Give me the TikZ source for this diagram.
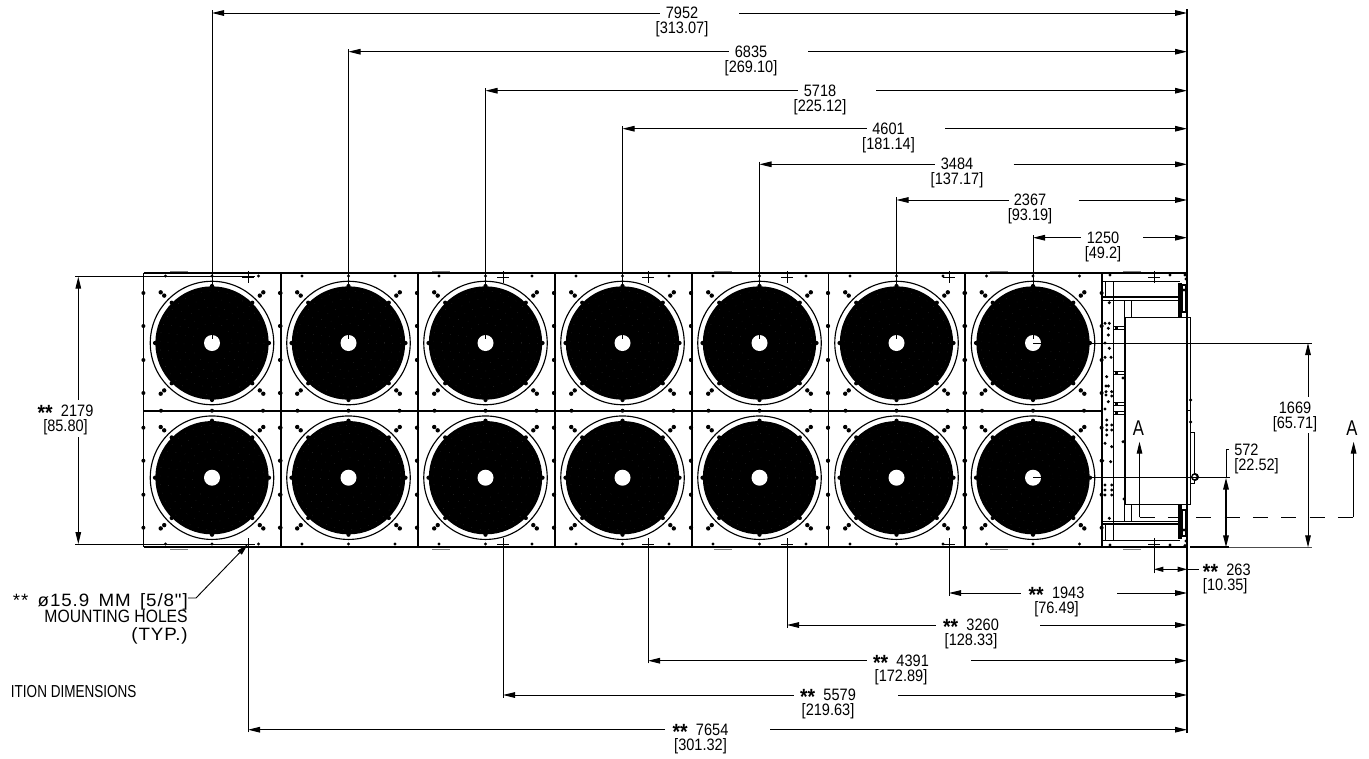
\documentclass[tikz,border=0pt]{standalone}
\usepackage{fontspec}
\setmainfont[FakeStretch=0.88]{Liberation Sans}
\newfontfamily\labelfont[FakeStretch=0.78]{Liberation Sans}
\newfontfamily\widefont[FakeStretch=1.05,LetterSpace=5]{Liberation Sans}
\usetikzlibrary{arrows.meta}
\newcommand{\twostars}{\smash{\raisebox{-0.42ex}{\fontsize{16.5}{16.5}\selectfont\textbf{**}}}\hspace{0.5em}}

\begin{document}
\begin{tikzpicture}[x=0.75pt,y=-0.75pt,font=\fontsize{12.4}{14}\selectfont]
  \tikzset{
    panel_edge/.style={line width=1.35pt},
    fan_ring/.style={circle, draw=black, line width=0.85pt, minimum size=92.6pt, inner sep=0pt},
    fan_disc/.style={circle, fill=black, minimum size=85pt, inner sep=0pt},
    fan_hub/.style={circle, fill=white, minimum size=12pt, inner sep=0pt},
    dim_text/.style={inner sep=0pt},
    note_text/.style={inner sep=0pt, font=\fontsize{13.4}{15}\selectfont},
    thin_line/.style={line width=0.7pt},
    heavy_line/.style={line width=1.15pt},
    dim_arrow/.style={-{Stealth[length=9pt,width=4.2pt,inset=0pt]}, line width=0.7pt},
    dim_both/.style={{Stealth[length=7pt,width=3.8pt,inset=0pt]}-{Stealth[length=7pt,width=3.8pt,inset=0pt]}, line width=0.7pt},
    ext_line/.style={line width=0.65pt}
  }
  \useasboundingbox (0,0) rectangle (1369,758);

  % panels, two rows of seven
  \foreach \px in {143.5,281,418,555,692,828.5,965,1102} {
    \draw[panel_edge] (\px,273) -- (\px,547.3);
  }
  \draw[panel_edge] (143.5,273) -- (1186,273);
  \draw[panel_edge] (143.5,547.3) -- (1186,547.3);
  \draw[panel_edge] (143.5,410.7) -- (1102,410.7);
  \foreach \mx in {170,432,714,990,1123} {
    \draw[gray, thin_line] (\mx,271) -- (\mx+18,271);
    \draw[gray, thin_line] (\mx,549) -- (\mx+18,549);
  }

  % fans and the dots round them
  \foreach \cx [count=\ci] in {212,348.5,485.5,622.5,759.5,896.5,1033} {
    \foreach \cy [count=\ri] in {343,477.7} {
      \node[fan_ring] (ring-\ci-\ri) at (\cx,\cy) {};
      \node[fan_disc] (fan-\ci-\ri) at (\cx,\cy) {};
      \foreach \rr in {20,28,36,44,52} {
        \draw[black!65, line width=0.1pt, dash pattern=on 0.5pt off 6pt] (\cx,\cy) circle (\rr);
      }
      \foreach \ang in {0,45,...,315} {
        \fill (\cx,\cy) ++(\ang:57) circle (2.1);
      }
      \node[fan_hub] (hub-\ci-\ri) at (\cx,\cy) {};
      \foreach \sx in {-1,1} {
        \foreach \sy in {-1,1} {
          \fill (\cx+\sx*51.3,\cy+\sy*50.7) circle (2.2);
          \fill (\cx+\sx*47.8,\cy+\sy*47.4) circle (2.2);
          \fill (\cx+\sx*68.6,\cy+\sy*50) circle (2);
          \fill (\cx+\sx*68.6,\cy+\sy*17) circle (2);
        }
      }
      \ifnum\ri=1
        \fill (\cx,\cy-67) circle (1.6);
        \fill (\cx-46.5,\cy-67) circle (1.6);
        \fill (\cx+46.5,\cy-67) circle (1.6);
        \fill (\cx,\cy+67.7) circle (2);
        \fill (\cx-51,\cy+67.7) circle (2);
        \fill (\cx+51,\cy+67.7) circle (2);
      \else
        \fill (\cx,\cy+66.3) circle (1.6);
        \fill (\cx-46.5,\cy+66.3) circle (1.6);
        \fill (\cx+46.5,\cy+66.3) circle (1.6);
      \fi
    }
  }

  % unit at the right end
  \draw[thin_line] (1102,281) -- (1180,281);
  \draw[heavy_line] (1102,297) -- (1180,297);
  \draw[thin_line] (1102,300) -- (1180,300);
  \draw[thin_line] (1102,521) -- (1180,521);
  \draw[heavy_line] (1102,524) -- (1180,524);
  \draw[thin_line] (1102,540) -- (1180,540);
  \draw[thin_line] (1105,281) -- (1105,297);
  \draw[thin_line] (1105,524) -- (1105,540);
  \draw[thin_line] (1113.5,281) -- (1113.5,540);
  \draw[panel_edge] (1124.5,300) -- (1124.5,521);
  \draw[thin_line] (1131.5,300) -- (1131.5,317);
  \draw[thin_line] (1131.5,504) -- (1131.5,521);
  \draw[thin_line] (1125,317) rectangle (1190.6,504);
  \draw[thin_line] (1186,317) -- (1186,504);
  \draw[thin_line] (1187,410.7) -- (1190.6,410.7);
  \draw[thin_line] (1190.6,432.7) rectangle (1194.5,483);
  \draw[heavy_line] (1160,504.5) -- (1180,504.5);
  \fill (1177.7,283) rectangle (1182,317);
  \fill (1177.7,505) rectangle (1182,539);
  \draw[heavy_line] (1182.5,285) rectangle (1186,312);
  \draw[heavy_line] (1182.5,510) rectangle (1186,536);
  \fill (1195,477) circle (4);
  \fill[white] (1194.5,477) circle (2);
  \foreach \vy in {327.7,373.3,404,413.3} {
    \draw[thin_line] (1114,\vy-1.5) -- (1124,\vy-1.5);
    \draw[thin_line] (1114,\vy+1.5) -- (1124,\vy+1.5);
    \fill (1115,\vy-2) rectangle (1118,\vy+2);
  }
  \foreach \hx/\hy in {1109.3/302.7,1105/323.3,1109.3/323.3,1108.3/328.3,1108.3/335,1105/343,1109.3/348.3,1105/357.3,
    1111/357.3,1106.7/376.7,1106/386,1108.3/386,1106/391.7,1111.7/391.7,1106/395,1111.7/396,1108.3/401.7,1105/409,
    1106.7/420,1106.7/425,1111.7/425,1106.7/430,1111.7/430,1106.7/435,1105/443.3,1111.7/446.7,1102.7/460.7,1110.7/461.7,
    1105/485,1111.7/485,1105/490,1111.7/490,1105/495,1111.7/495,1109.3/518.3,1110/545,1110/275,1170/275,1170/545,
    1123/378,1123/441.7,1124/499,1185/275,1186/279,1185/545.5,1186/541,1184/290,1184/530,1190.6/400,1190.6/422} {
    \fill (\hx,\hy) circle (1.7);
  }

  % mounting holes
  \foreach \hx in {248,503,648,787,949,1154} {
    \coordinate (hole-top-\hx) at (\hx,277);
    \coordinate (hole-bot-\hx) at (\hx,544);
    \draw[thin_line] (\hx-6,277) -- (\hx+6,277);
    \draw[thin_line] (\hx,271) -- (\hx,283);
    \draw[thin_line] (\hx-6,544) -- (\hx+6,544);
    \draw[thin_line] (\hx,538) -- (\hx,544);
  }

  % dimensions above, down to the fan centres
  \foreach \dimval/\inval/\col/\dimy/\tx/\stopx/\resx in {
    7952/313.07/1/13/682/659.5/739,
    6835/269.10/2/51.7/751/728.5/808,
    5718/225.12/3/90.7/820/797.5/876,
    4601/181.14/4/128.7/888.5/866.6/945,
    3484/137.17/5/164.3/957/934.5/1013.5,
    2367/93.19/6/200/1030/1008.5/1078.7,
    1250/49.2/7/237.7/1103/1081/1143} {
    \node[dim_text] (val-\dimval) at (\tx,\dimy) {\dimval};
    \node[dim_text] (alt-\dimval) at (\tx,\dimy+16.4) {[\inval]};
    \coordinate (start-\dimval) at (hub-\col-1 |- val-\dimval);
    \coordinate (stop-\dimval) at (\stopx,\dimy);
    \coordinate (res-\dimval) at (\resx,\dimy);
    \coordinate (rail-\dimval) at (1187,\dimy);
    \draw[ext_line, shorten >=3pt, shorten <=-2pt] (start-\dimval) -- (hub-\col-1.center);
    \draw[dim_arrow] (stop-\dimval) -- (start-\dimval);
    \draw[dim_arrow] (res-\dimval) -- (rail-\dimval);
  }

  % dimensions below, from the mounting holes
  \foreach \dimval/\inval/\hole/\dimy/\tx/\stopx/\resx in {
    1943/76.49/949/593/1056.5/1020.8/1117,
    3260/128.33/787/625/971/935.6/1040,
    4391/172.89/648/660.7/901/866.6/971,
    5579/219.63/503/695/828/793.7/898,
    7654/301.32/248/729.7/700.5/665/770} {
    \node[dim_text] (val-\dimval) at (\tx,\dimy) {\twostars\dimval};
    \node[dim_text] (alt-\dimval) at (\tx,\dimy+16.4) {[\inval]};
    \coordinate (start-\dimval) at (hole-bot-\hole |- val-\dimval);
    \coordinate (stop-\dimval) at (\stopx,\dimy);
    \coordinate (res-\dimval) at (\resx,\dimy);
    \coordinate (rail-\dimval) at (1187,\dimy);
    \draw[ext_line, shorten <=-2pt] (start-\dimval) -- (hole-bot-\hole);
    \draw[dim_arrow] (stop-\dimval) -- (start-\dimval);
    \draw[dim_arrow] (res-\dimval) -- (rail-\dimval);
  }

  % rail at the right end of all the chains
  \coordinate (rail-top) at (1187,9);
  \coordinate (rail-bot) at (1187,733);
  \draw[line width=1.05pt] (rail-top) -- (rail-bot);

  % overall height on the left
  \node[dim_text] (val-2179) at (65.5,411) {\twostars2179};
  \node[dim_text] (alt-2179) at (65.5,427) {[85.80]};
  \coordinate (left-top) at (75,276.7);
  \coordinate (left-bot) at (75,544);
  \coordinate (left-a) at (78.3,276.7);
  \coordinate (left-b) at (78.3,544);
  \coordinate (left-c) at (78.3,400);
  \coordinate (left-d) at (78.3,437);
  \coordinate (left-e) at (255,276.7);
  \coordinate (left-f) at (255,544);
  \draw[ext_line] (left-top) -- (left-e);
  \draw[ext_line] (left-bot) -- (left-f);
  \draw[dim_arrow] (left-c) -- (left-a);
  \draw[dim_arrow] (left-d) -- (left-b);

  % fan centres to the base on the right
  \node[dim_text] (val-1669) at (1295,408) {1669};
  \node[dim_text] (alt-1669) at (1295,424) {[65.71]};
  \coordinate (ext-1669) at (1311.7,343);
  \coordinate (ext-base) at (1311.7,547.3);
  \coordinate (base-edge) at (1190,547.3);
  \coordinate (base-572) at (1229,547.3);
  \coordinate (up-1669) at (1308,343);
  \coordinate (gap-a) at (1308,396.7);
  \coordinate (gap-b) at (1308,433);
  \coordinate (low-1669) at (1308,547.3);
  \draw[ext_line] (hub-7-1.center) -- (ext-1669);
  \draw[ext_line, gray!60!black] (base-572) -- (ext-base);
  \draw[panel_edge] (base-edge) -- (base-572);
  \draw[dim_arrow] (gap-a) -- (up-1669);
  \draw[dim_arrow] (gap-b) -- (low-1669);

  \node[dim_text, anchor=west] (val-572) at (1234,450) {572};
  \node[dim_text, anchor=west] (alt-572) at (1234,466) {[22.52]};
  \coordinate (ext-572) at (1229.5,477.7);
  \coordinate (tick-572) at (1229,449);
  \coordinate (top-572) at (1226,449);
  \coordinate (up-572) at (1226,477.7);
  \coordinate (mid-572) at (1226,512);
  \coordinate (low-572) at (1226,547.3);
  \draw[ext_line] (hub-7-2.center) -- (ext-572);
  \draw[ext_line] (tick-572) -- (top-572) -- (up-572);
  \draw[line width=1.1pt, -{Stealth[length=9pt,width=4.2pt,inset=0pt]}] (mid-572) -- (up-572);
  \draw[line width=1.1pt, -{Stealth[length=9pt,width=4.2pt,inset=0pt]}] (mid-572) -- (low-572);

  \node[dim_text, anchor=west] (val-263) at (1202.7,570) {\twostars263};
  \node[dim_text, anchor=west] (alt-263) at (1202.7,586) {[10.35]};
  \coordinate (start-263) at (1154,569.3);
  \coordinate (rail-263) at (1187,569.3);
  \coordinate (end-263) at (1199,569.3);
  \draw[ext_line, shorten <=-3pt] (start-263) -- (hole-bot-1154);
  \draw[dim_both] (start-263) -- (rail-263);
  \draw[ext_line] (rail-263) -- (end-263);

  % section line
  \node[dim_text, font=\labelfont\fontsize{16}{18}\selectfont] (sec-a) at (1138.5,428) {A};
  \node[dim_text, font=\labelfont\fontsize{16}{18}\selectfont] (sec-b) at (1352,428) {A};
  \coordinate (tip-a) at (1139.5,441.7);
  \coordinate (tip-b) at (1353.6,441.7);
  \coordinate (cut-a) at (1139.5,517.4);
  \coordinate (cut-b) at (1353.6,517.4);
  \draw[dim_arrow] (cut-a) -- (tip-a);
  \draw[dim_arrow] (cut-b) -- (tip-b);
  \draw[thin_line, dash pattern=on 11.25pt off 10pt] (cut-a) -- (cut-b);

  % note
  \node[note_text, anchor=east] (note-one) at (188,601.7) {\widefont**\hspace{7pt}ø15.9\hspace{7pt}MM\hspace{7pt}[5/8"]};
  \node[note_text, anchor=east] (note-two) at (188,616.7) {MOUNTING HOLES};
  \node[note_text, anchor=east] (note-three) at (188,636) {\widefont(TYP.)};
  \coordinate (note-bend) at (196,598);
  \draw[dim_arrow] (note-one.east |- note-bend) -- (note-bend) -- (hole-bot-248);

  \node[dim_text, anchor=west, font=\labelfont\fontsize{13}{15}\selectfont] (title-left) at (10.7,691.7) {ITION DIMENSIONS};
  \draw[ext_line] (hole-bot-248) -- (start-7654);
\end{tikzpicture}
\end{document}
